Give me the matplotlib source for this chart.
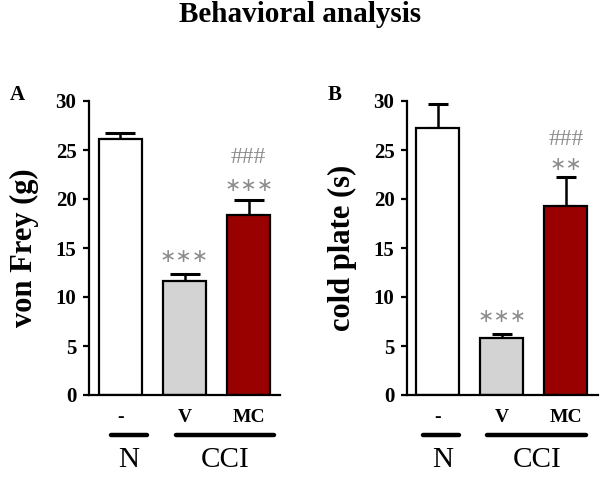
import numpy as np
import matplotlib
matplotlib.use('Agg')
import matplotlib.pyplot as plt
import matplotlib.transforms as mtransforms

plt.rcParams['font.family'] = 'Liberation Serif'

groups = ["-", "V", "MC"]
bar_colors = ["white", "#d3d3d3", "#990000"]

# panel A: von Frey (g)
frey_mean = [26.1, 11.6, 18.4]
frey_err = [0.6, 0.7, 1.5]
frey_marks = [("", None), ("∗∗∗", 14.1), ("∗∗∗", 21.4)]
frey_hash = [None, None, 24.2]

# panel B: cold plate (s)
cold_mean = [27.2, 5.8, 19.3]
cold_err = [2.5, 0.4, 2.9]
cold_marks = [("", None), ("∗∗∗", 8.0), ("∗∗", 23.5)]
cold_hash = [None, None, 26.1]

fig = plt.figure(figsize=(6, 4.78), dpi=100)
W, H = 600, 478
GRAY = "#8c8c8c"


def make_axes(x0, x1, ytop, ybot):
    return fig.add_axes([x0 / W, (H - ybot) / H, (x1 - x0) / W, (ybot - ytop) / H])


def draw_panel(ax, means, errs, marks, hashes, ylabel, letter, letter_x, xlim, capsize,
               n_line, cci_line, n_x, cci_x):
    x = np.arange(len(groups))
    ax.bar(x, means, width=0.67, color=bar_colors, edgecolor="black", linewidth=1.6, zorder=2)
    ax.errorbar(x, means, yerr=[np.zeros(len(errs)), errs], fmt="none", ecolor="black",
                elinewidth=1.8, capsize=capsize, capthick=2.2, zorder=1)
    ax.set_xlim(*xlim)
    ax.set_ylim(0, 30)
    ax.set_yticks([0, 5, 10, 15, 20, 25, 30])
    ax.set_xticks([])
    for s in ["top", "right"]:
        ax.spines[s].set_visible(False)
    ax.spines["left"].set_linewidth(1.6)
    ax.spines["bottom"].set_linewidth(1.6)
    ax.tick_params(axis="y", direction="out", length=4, width=1.6, labelsize=15, pad=5)
    for lab in ax.get_yticklabels():
        lab.set_fontweight("bold")
    ax.set_ylabel(ylabel, fontsize=22, fontweight="bold", labelpad=12)

    for xi, (txt, yy) in zip(x, marks):
        if txt:
            ax.text(xi, yy, txt, ha="center", va="center", fontsize=14, color=GRAY,
                    family="DejaVu Sans")
    for xi, yy in zip(x, hashes):
        if yy is not None:
            ax.text(xi, yy, "###", ha="center", va="center", fontsize=17, color=GRAY)

    trans = mtransforms.blended_transform_factory(ax.transData, ax.transAxes)
    for xi, g in zip(x, groups):
        ax.text(xi, -0.078, g, transform=trans, ha="center", va="center",
                fontsize=14, fontweight="bold")
    ax.plot(n_line, [-0.136, -0.136], transform=trans, color="black", lw=3.2,
            clip_on=False, solid_capstyle="round")
    ax.plot(cci_line, [-0.136, -0.136], transform=trans, color="black", lw=3.2,
            clip_on=False, solid_capstyle="round")
    ax.text(n_x, -0.222, "N", transform=trans, ha="center", va="center", fontsize=21)
    ax.text(cci_x, -0.222, "CCI", transform=trans, ha="center", va="center", fontsize=21)
    fig.text(letter_x / W, 1 - 95 / H, letter, ha="center", va="center",
             fontsize=15, fontweight="bold")


axA = make_axes(89, 280, 101, 395)
draw_panel(axA, frey_mean, frey_err, frey_marks, frey_hash, "von Frey (g)", "A", 17,
           (-0.49, 2.49), 11, [-0.15, 0.41], [0.87, 2.4], 0.13, 1.63)

axB = make_axes(407, 598, 101, 395)
draw_panel(axB, cold_mean, cold_err, cold_marks, cold_hash, "cold plate (s)", "B", 335,
           (-0.48, 2.5), 7.5, [-0.23, 0.33], [0.77, 2.31], 0.08, 1.55)

fig.text(0.5, 1 - 14 / H, "Behavioral analysis", ha="center", va="center",
         fontsize=21, fontweight="bold")

fig.savefig("out.png", dpi=100)
